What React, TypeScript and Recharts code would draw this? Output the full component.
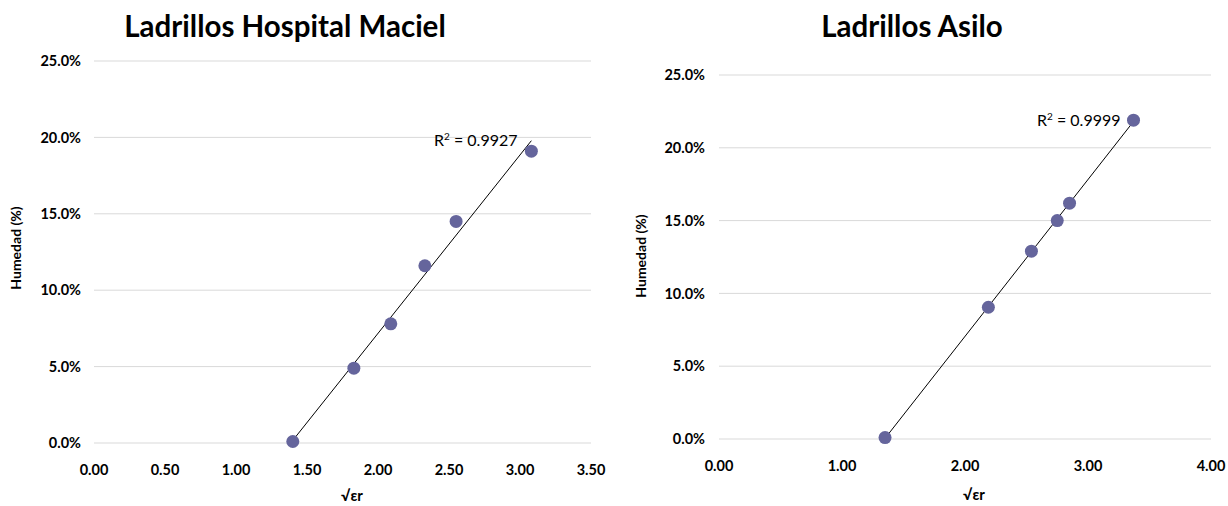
import { CartesianGrid, ReferenceLine, Scatter, ScatterChart, XAxis, YAxis } from 'recharts'

// Ladrillos Hospital Maciel
const hospitalX = [1.4, 1.83, 2.09, 2.33, 2.55, 3.08]
const hospitalY = [0.001, 0.049, 0.078, 0.116, 0.145, 0.191]
const hospitalR2 = '0.9927'
const hospitalTicksX = [0, 0.5, 1, 1.5, 2, 2.5, 3, 3.5]

// Ladrillos Asilo
const asiloX = [1.35, 2.19, 2.54, 2.75, 2.85, 3.37]
const asiloY = [0.001, 0.0905, 0.129, 0.15, 0.162, 0.219]
const asiloR2 = '0.9999'
const asiloTicksX = [0, 1, 2, 3, 4]

const ticksY = [0, 0.05, 0.1, 0.15, 0.2, 0.25]

const FONT = 'Lato, "Open Sans", sans-serif'
const DOT = '#65659C'
const GRID = '#D9D9D9'

type Pt = { x: number; y: number }

const toPoints = (xs: number[], ys: number[]): Pt[] => xs.map((x, i) => ({ x, y: ys[i] }))

// least squares line, drawn across the data's x range
function trend(pts: Pt[]): [Pt, Pt] {
  const n = pts.length
  const mx = pts.reduce((s, p) => s + p.x, 0) / n
  const my = pts.reduce((s, p) => s + p.y, 0) / n
  let sxy = 0
  let sxx = 0
  pts.forEach((p) => {
    sxy += (p.x - mx) * (p.y - my)
    sxx += (p.x - mx) ** 2
  })
  const b = sxy / sxx
  const a = my - b * mx
  const x0 = Math.min(...pts.map((p) => p.x))
  const x1 = Math.max(...pts.map((p) => p.x))
  return [
    { x: x0, y: a + b * x0 },
    { x: x1, y: a + b * x1 },
  ]
}

const tickStyle = { fontFamily: FONT, fontSize: 14.5, fontWeight: 700, fill: '#000' }

const Dot = (props: any) => <circle cx={props.cx} cy={props.cy} r={6.5} fill={DOT} />

type PanelProps = {
  left: number
  title: string
  titleX: number
  pts: Pt[]
  xTicks: number[]
  r2: string
  r2Left: number
  r2Top: number
  margin: { top: number; right: number; left: number; bottom: number }
  yWidth: number
  xHeight: number
  xTickMargin: number
  yTickMargin: number
  yTitleX: number
  yTitleY: number
  xTitleX: number
  xTitleY: number
}

function Panel(p: PanelProps) {
  const line = trend(p.pts)
  return (
    <div style={{ position: 'absolute', left: p.left, top: 0, width: 614, height: 506 }}>
      <ScatterChart width={614} height={506} margin={p.margin}>
        <CartesianGrid vertical={false} stroke={GRID} strokeWidth={1} />
        <XAxis
          type="number"
          dataKey="x"
          domain={[p.xTicks[0], p.xTicks[p.xTicks.length - 1]]}
          ticks={p.xTicks}
          tickFormatter={(v: number) => v.toFixed(2)}
          axisLine={false}
          tickLine={false}
          tickSize={0}
          tickMargin={p.xTickMargin}
          height={p.xHeight}
          tick={tickStyle}
          interval={0}
        />
        <YAxis
          type="number"
          dataKey="y"
          domain={[0, 0.25]}
          ticks={ticksY}
          tickFormatter={(v: number) => `${(v * 100).toFixed(1)}%`}
          axisLine={false}
          tickLine={false}
          tickSize={0}
          tickMargin={p.yTickMargin}
          width={p.yWidth}
          tick={tickStyle}
          interval={0}
        />
        <ReferenceLine segment={line} stroke="#000" strokeWidth={1} ifOverflow="visible" />
        <Scatter data={p.pts} fill={DOT} isAnimationActive={false} shape={Dot} />
      </ScatterChart>
      <div
        style={{
          position: 'absolute',
          left: p.titleX,
          top: 8,
          transform: 'translateX(-50%)',
          fontFamily: FONT,
          fontWeight: 700,
          fontSize: 29.5,
          whiteSpace: 'nowrap',
          color: '#000',
        }}
      >
        {p.title}
      </div>
      <div
        style={{
          position: 'absolute',
          left: p.r2Left,
          top: p.r2Top,
          fontFamily: FONT,
          fontSize: 16,
          whiteSpace: 'nowrap',
          color: '#000',
        }}
      >
        R<sup style={{ fontSize: 10 }}>2</sup> = {p.r2}
      </div>
      <div
        style={{
          position: 'absolute',
          left: p.yTitleX,
          top: p.yTitleY,
          transform: 'translate(-50%, -50%) rotate(-90deg)',
          fontFamily: FONT,
          fontWeight: 700,
          fontSize: 14,
          whiteSpace: 'nowrap',
          color: '#000',
        }}
      >
        Humedad (%)
      </div>
      <div
        style={{
          position: 'absolute',
          left: p.xTitleX,
          top: p.xTitleY,
          transform: 'translate(-50%, -50%)',
          fontFamily: FONT,
          fontWeight: 700,
          fontSize: 15,
          lineHeight: '18px',
          whiteSpace: 'nowrap',
          color: '#000',
        }}
      >
        √εr
      </div>
    </div>
  )
}

export default function App() {
  return (
    <div
      style={{
        position: 'fixed',
        left: 0,
        top: 0,
        width: 1228,
        height: 506,
        background: '#fff',
        overflow: 'hidden',
      }}
    >
      <Panel
        left={0}
        title="Ladrillos Hospital Maciel"
        titleX={285}
        pts={toPoints(hospitalX, hospitalY)}
        xTicks={hospitalTicksX}
        r2={hospitalR2}
        r2Left={434}
        r2Top={130}
        margin={{ top: 61, right: 23, left: 0, bottom: 0 }}
        yWidth={94}
        xHeight={63}
        xTickMargin={22}
        yTickMargin={13}
        yTitleX={15}
        yTitleY={248}
        xTitleX={352}
        xTitleY={495}
      />
      <Panel
        left={614}
        title="Ladrillos Asilo"
        titleX={298}
        pts={toPoints(asiloX, asiloY)}
        xTicks={asiloTicksX}
        r2={asiloR2}
        r2Left={423}
        r2Top={110}
        margin={{ top: 75, right: 17, left: 0, bottom: 0 }}
        yWidth={105}
        xHeight={67}
        xTickMargin={22}
        yTickMargin={14}
        yTitleX={26}
        yTitleY={256}
        xTitleX={360}
        xTitleY={494}
      />
    </div>
  )
}
